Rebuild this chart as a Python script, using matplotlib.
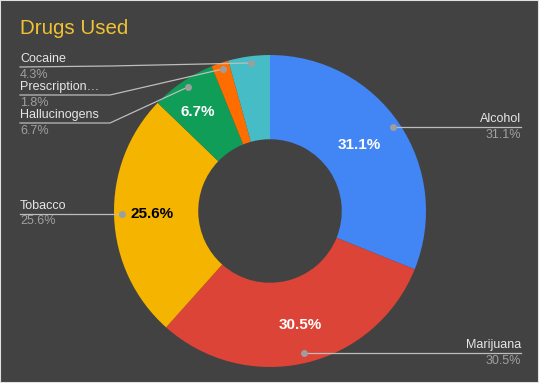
import matplotlib.pyplot as plt

plt.rcParams['font.family'] = ['Liberation Sans', 'DejaVu Sans']

labels = ['Alcohol', 'Marijuana', 'Tobacco', 'Hallucinogens', 'Prescription…', 'Cocaine']
values = [31.1, 30.5, 25.6, 6.7, 1.8, 4.3]
colors = ['#4285F4', '#DB4437', '#F4B400', '#0F9D58', '#FF6D01', '#46BDC6']
inner_colors = ['white', 'white', 'black', 'white', None, None]

W, H = 539, 383
bg = '#424242'
fig = plt.figure(figsize=(W / 100, H / 100), dpi=100, facecolor=bg)
ax = fig.add_axes([0, 0, 1, 1])

cx, cy, r = 270, H - 211, 156
ax.pie(values, colors=colors, startangle=90, counterclock=False,
       center=(cx, cy), radius=r, frame=True,
       wedgeprops=dict(width=r * 0.54, linewidth=0))
ax.set_xlim(0, W)
ax.set_ylim(0, H)
ax.set_aspect('equal')
ax.axis('off')

# inner percentage labels (pixel positions measured on reference)
inner_pos = [(359, 145), (300, 325), (152, 214), (198, 112), None, None]
for v, p, c in zip(values, inner_pos, inner_colors):
    if p is None:
        continue
    ax.text(p[0], H - p[1], f'{v}%', color=c, fontsize=11, fontweight='bold',
            ha='center', va='center')

# leader lines: points from slice dot to label end
name_c = '#e6e6e6'
pct_c = '#a0a0a0'
line_c = '#bdbdbd'
leaders = {
    'Alcohol': [(393, 127), (521, 127)],
    'Marijuana': [(304, 353), (521, 353)],
    'Tobacco': [(122, 214), (20, 214)],
    'Hallucinogens': [(188, 87), (110, 123), (20, 123)],
    'Prescription…': [(223, 69), (110, 95), (20, 95)],
    'Cocaine': [(251, 63), (110, 66), (20, 67)],
}
for lab, v in zip(labels, values):
    pts = leaders[lab]
    xs = [p[0] for p in pts]
    ys = [H - p[1] for p in pts]
    ax.plot(xs, ys, color=line_c, lw=0.9)
    ax.plot(xs[0], ys[0], 'o', color='#9e9e9e', ms=4)
    ex, ey = pts[-1]
    ha = 'right' if ex > cx else 'left'
    ax.text(ex, H - ey + 2, lab, color=name_c, fontsize=9, ha=ha, va='bottom')
    ax.text(ex, H - ey - 1.5, f'{v}%', color=pct_c, fontsize=9, ha=ha, va='top')

ax.text(20, H - 28, 'Drugs Used', color='#F1C232', fontsize=14.8, ha='left', va='center')

# thin light frame around the chart
fig.patches.append(plt.Rectangle((0, 0), 1, 1, transform=fig.transFigure,
                                 fill=False, edgecolor='#e0e0e0', lw=1.5))

fig.savefig('out.png', dpi=100, facecolor=bg)
